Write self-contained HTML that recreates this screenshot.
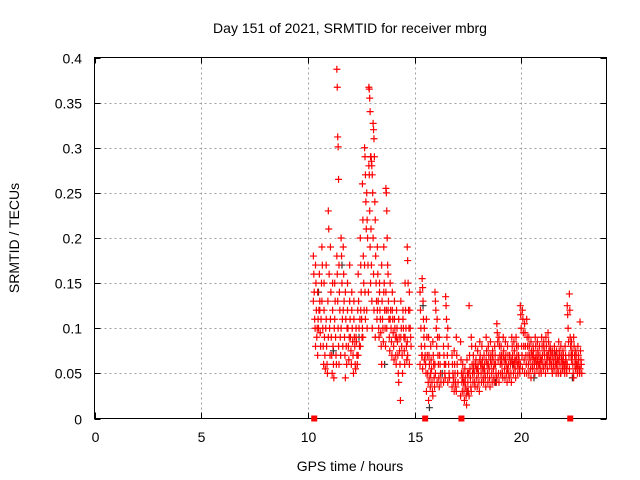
<!DOCTYPE html>
<html><head><meta charset="utf-8"><style>
body{margin:0;background:#fff}
svg{display:block;font-family:"Liberation Sans",sans-serif}
</style></head><body>
<svg id="chart" width="640" height="480" xmlns="http://www.w3.org/2000/svg">
<rect width="640" height="480" fill="#fff"/>
<g id="grid"></g>
<g id="ticks"></g>
<g id="points"></g>
<rect x="94.5" y="57.5" width="512" height="361" fill="none" stroke="#000"/>
<text x="350" y="33" font-size="14" text-anchor="middle">Day 151 of 2021, SRMTID for receiver mbrg</text>
<text x="350" y="471" font-size="14" text-anchor="middle">GPS time / hours</text>
<text x="0" y="0" font-size="14" text-anchor="middle" transform="translate(19,238) rotate(-90)">SRMTID / TECUs</text>
</svg>
<script>
const xTicks=[0,5,10,15,20];
const yTicks=[0,0.05,0.1,0.15,0.2,0.25,0.3,0.35,0.4];
const yTickLabels=["0","0.05","0.1","0.15","0.2","0.25","0.3","0.35","0.4"];
const times=[10.3,10.4,10.5,10.6,10.7,10.8,10.9,11.0,11.1,11.2,11.3,11.4,11.5,11.6,11.7,11.8,11.9,12.0,12.1,12.2,12.3,12.4,12.5,12.6,12.7,12.8,12.9,13.0,13.1,13.2,13.3,13.4,13.5,13.6,13.7,13.8,13.9,14.0,14.1,14.2,14.3,14.4,14.5,14.6,14.7,14.8,15.3,15.4,15.5,15.6,15.7,15.8,15.9,16.0,16.1,16.2,16.4,16.5,16.6,16.8,16.9,17.0,17.2,17.3,17.4,17.5,17.6,17.7,17.8,17.9,18.0,18.1,18.2,18.3,18.4,18.5,18.6,18.7,18.8,18.9,19.0,19.1,19.2,19.3,19.4,19.5,19.6,19.7,19.8,19.9,20.0,20.1,20.2,20.3,20.4,20.5,20.6,20.7,20.8,20.9,21.0,21.1,21.2,21.3,21.4,21.5,21.6,21.7,21.8,21.9,22.0,22.1,22.2,22.3,22.4,22.5,22.6,22.7,22.8];
const values=[
[0.18,0.16,0.14,0.11,0.10,0.13],[0.17,0.15,0.12,0.09,0.10,0.08],[0.14,0.11,0.10,0.12,0.16,0.07],[0.13,0.095,0.08,0.11,0.15,0.12],
[0.19,0.17,0.10,0.08,0.06,0.13],[0.12,0.09,0.07,0.055,0.10,0.15],[0.11,0.08,0.06,0.05,0.13,0.17],[0.23,0.21,0.16,0.10,0.07,0.09],
[0.19,0.14,0.09,0.07,0.05,0.11],[0.12,0.08,0.06,0.045,0.10,0.15],[0.15,0.13,0.09,0.07,0.06,0.11],[0.387,0.367,0.312,0.301,0.265,0.18,0.16,0.13,0.10,0.08],
[0.17,0.14,0.12,0.09,0.07,0.06],[0.20,0.18,0.15,0.11,0.08,0.10],[0.19,0.16,0.13,0.09,0.07,0.12],[0.14,0.11,0.08,0.06,0.10,0.045],
[0.12,0.10,0.08,0.065,0.09,0.15],[0.13,0.11,0.09,0.075,0.06,0.17],[0.14,0.10,0.085,0.07,0.05,0.12],[0.11,0.09,0.08,0.06,0.055,0.13],
[0.10,0.085,0.07,0.06,0.12,0.09],[0.16,0.13,0.10,0.08,0.11,0.07],[0.20,0.17,0.14,0.11,0.09,0.08,0.12],[0.26,0.22,0.18,0.15,0.12,0.10,0.09],
[0.30,0.29,0.27,0.24,0.21,0.17,0.14,0.11],[0.25,0.22,0.20,0.17,0.14,0.12,0.10],[0.367,0.365,0.355,0.34,0.29,0.28,0.27,0.23,0.19,0.15],
[0.29,0.285,0.28,0.27,0.25,0.21,0.17,0.13,0.10],[0.327,0.32,0.31,0.29,0.24,0.20,0.16,0.12],[0.22,0.18,0.15,0.13,0.11,0.09],
[0.19,0.16,0.13,0.10,0.09,0.12],[0.15,0.12,0.11,0.095,0.08,0.14],[0.17,0.13,0.11,0.10,0.085,0.06],[0.19,0.15,0.12,0.10,0.08,0.14],
[0.255,0.25,0.23,0.20,0.17,0.14,0.12,0.10],[0.16,0.13,0.11,0.09,0.075,0.12],[0.15,0.12,0.10,0.085,0.07,0.11],[0.14,0.11,0.095,0.08,0.065,0.12],
[0.13,0.10,0.09,0.07,0.06,0.11],[0.12,0.10,0.085,0.07,0.05,0.09],[0.11,0.09,0.075,0.06,0.02,0.04],[0.13,0.10,0.08,0.07,0.05,0.09],
[0.12,0.10,0.09,0.075,0.06,0.11],[0.15,0.12,0.10,0.08,0.065,0.09],[0.19,0.175,0.15,0.12,0.10,0.085,0.07],[0.14,0.12,0.10,0.09,0.08,0.06],
[0.14,0.12,0.10,0.08,0.07,0.06],[0.155,0.145,0.13,0.11,0.09,0.07,0.055],[0.10,0.08,0.07,0.06,0.05,0.065],[0.11,0.09,0.07,0.05,0.04,0.03],
[0.09,0.07,0.06,0.045,0.035,0.02],[0.08,0.065,0.055,0.04,0.03,0.05],[0.085,0.07,0.06,0.045,0.035,0.025],[0.14,0.13,0.12,0.10,0.08,0.06,0.05],
[0.11,0.09,0.07,0.06,0.045,0.04],[0.09,0.07,0.06,0.05,0.04,0.035],[0.08,0.07,0.06,0.05,0.045,0.04],[0.135,0.125,0.11,0.09,0.07,0.06],
[0.10,0.08,0.06,0.05,0.045,0.04],[0.07,0.06,0.05,0.045,0.04,0.035],[0.075,0.06,0.05,0.04,0.035,0.03],[0.09,0.07,0.06,0.05,0.04,0.03],
[0.085,0.065,0.05,0.04,0.03,0.025],[0.06,0.05,0.04,0.03,0.02,0.045],[0.055,0.045,0.035,0.025,0.015,0.04],[0.065,0.05,0.04,0.03,0.05,0.03],
[0.125,0.07,0.055,0.045,0.035,0.025],[0.09,0.08,0.06,0.05,0.04,0.03],[0.07,0.06,0.05,0.04,0.035,0.055],[0.08,0.065,0.055,0.045,0.035,0.06],
[0.075,0.06,0.05,0.04,0.03,0.055],[0.085,0.07,0.06,0.05,0.04,0.065],[0.08,0.065,0.055,0.045,0.04,0.06],[0.07,0.06,0.05,0.045,0.035,0.055],
[0.09,0.075,0.06,0.05,0.04,0.065],[0.08,0.07,0.055,0.045,0.035,0.06],[0.085,0.07,0.06,0.05,0.04,0.065],[0.075,0.065,0.055,0.045,0.04,0.07],
[0.08,0.07,0.06,0.05,0.04,0.06],[0.105,0.095,0.085,0.065,0.05,0.045],[0.09,0.08,0.07,0.06,0.05,0.04],[0.08,0.07,0.06,0.05,0.045,0.065],
[0.09,0.075,0.065,0.055,0.045,0.07],[0.085,0.07,0.06,0.05,0.04,0.065],[0.08,0.07,0.06,0.05,0.045,0.055],[0.07,0.065,0.06,0.05,0.04,0.07],
[0.09,0.08,0.07,0.06,0.05,0.065],[0.085,0.075,0.065,0.055,0.045,0.06],[0.09,0.08,0.07,0.06,0.05,0.065],[0.08,0.07,0.065,0.055,0.05,0.06],
[0.125,0.115,0.10,0.08,0.07,0.06],[0.12,0.11,0.095,0.08,0.065,0.055],[0.105,0.095,0.08,0.07,0.06,0.05],[0.11,0.09,0.08,0.07,0.06,0.05],
[0.09,0.08,0.07,0.065,0.055,0.05],[0.085,0.075,0.07,0.06,0.055,0.045],[0.08,0.075,0.065,0.06,0.05,0.07],[0.09,0.08,0.07,0.06,0.055,0.065],
[0.085,0.075,0.07,0.06,0.05,0.065],[0.08,0.07,0.065,0.055,0.05,0.06],[0.09,0.08,0.07,0.06,0.055,0.065],[0.085,0.075,0.07,0.06,0.05,0.08],
[0.09,0.08,0.07,0.065,0.055,0.06],[0.095,0.085,0.075,0.065,0.06,0.07],[0.08,0.075,0.07,0.06,0.055,0.065],[0.075,0.07,0.065,0.06,0.055,0.05],
[0.08,0.07,0.065,0.06,0.05,0.075],[0.075,0.07,0.065,0.055,0.05,0.06],[0.085,0.075,0.07,0.06,0.05,0.065],[0.08,0.07,0.065,0.06,0.055,0.05],
[0.075,0.07,0.06,0.055,0.05,0.065],[0.08,0.07,0.065,0.055,0.05,0.06],[0.125,0.115,0.10,0.085,0.07,0.06],[0.138,0.12,0.09,0.08,0.07,0.055],
[0.085,0.075,0.07,0.06,0.05,0.065],[0.09,0.08,0.07,0.06,0.055,0.045],[0.075,0.07,0.06,0.055,0.05,0.065],[0.08,0.07,0.065,0.055,0.05,0.06],
[0.107,0.075,0.065,0.06,0.05,0.055]];
const darkTimes=[10.5,11.2,11.6,12.4,13.6,15.4,15.7,16.3,17.5,18.8,19.6,20.6,21.6,22.4];
const darkValues=[0.14,0.075,0.17,0.09,0.06,0.125,0.012,0.05,0.03,0.04,0.06,0.045,0.07,0.045];
const gapTimes=[10.3,15.5,17.2,22.3];

const L=94.5,R=606.5,T=57.5,B=418.5;
const xs=v=>L+(v/24)*(R-L);
const ys=v=>B-(v/0.4)*(B-T);
const NS="http://www.w3.org/2000/svg";
function mk(tag,attrs,parent){const e=document.createElementNS(NS,tag);for(const k in attrs)e.setAttribute(k,attrs[k]);parent.appendChild(e);return e;}
const grid=document.getElementById('grid'),ticks=document.getElementById('ticks'),pts=document.getElementById('points');
const svg=document.getElementById('chart');
xTicks.forEach(t=>{const x=Math.round(xs(t))+0.5;
 if(t>0){const g=mk('line',{x1:x,x2:x,y1:T,y2:B,stroke:'#a0a0a0','stroke-dasharray':'2,3'},grid);
 
 }
 const a=mk('line',{x1:x,x2:x,y1:B,y2:B-6,stroke:'#000'},ticks);
 
 
 const b=mk('line',{x1:x,x2:x,y1:T,y2:T+6,stroke:'#000'},ticks);
 
 
 const tx=mk('text',{x:x,y:442,'font-size':14,'text-anchor':'middle'},ticks);tx.textContent=String(t);
 
 
});
yTicks.forEach((t,i)=>{const y=Math.round(ys(t))+0.5;
 if(t>0&&t<0.4){const g=mk('line',{x1:L,x2:R,y1:y,y2:y,stroke:'#a0a0a0','stroke-dasharray':'2,3'},grid);
 
 }
 const a=mk('line',{x1:L,x2:L+6,y1:y,y2:y,stroke:'#000'},ticks);
 
 
 const b=mk('line',{x1:R,x2:R-6,y1:y,y2:y,stroke:'#000'},ticks);
 
 
 const tx=mk('text',{x:82,y:y+5,'font-size':14,'text-anchor':'end'},ticks);tx.textContent=yTickLabels[i];
 
 
});
function plus(x,y,color){const d=`M${x-3.5},${y}h7M${x},${y-3.5}v7`;
 const p=mk('path',{d:d,stroke:color,'stroke-width':1.2,fill:'none'},pts);return p;}
darkTimes.forEach((t,i)=>{const p=plus(xs(t),ys(darkValues[i]),'#333');
 
 });
times.forEach((t,i)=>{values[i].forEach((v,j)=>{const off=(j%5-2)*0.02;
 const p=plus(xs(t+off),ys(v),'#ff0000');
 
 });});
gapTimes.forEach(t=>{const r=mk('rect',{x:xs(t)-3,y:B-3,width:6,height:6,fill:'#ff0000'},svg);
 
 });
</script>
</body></html>
